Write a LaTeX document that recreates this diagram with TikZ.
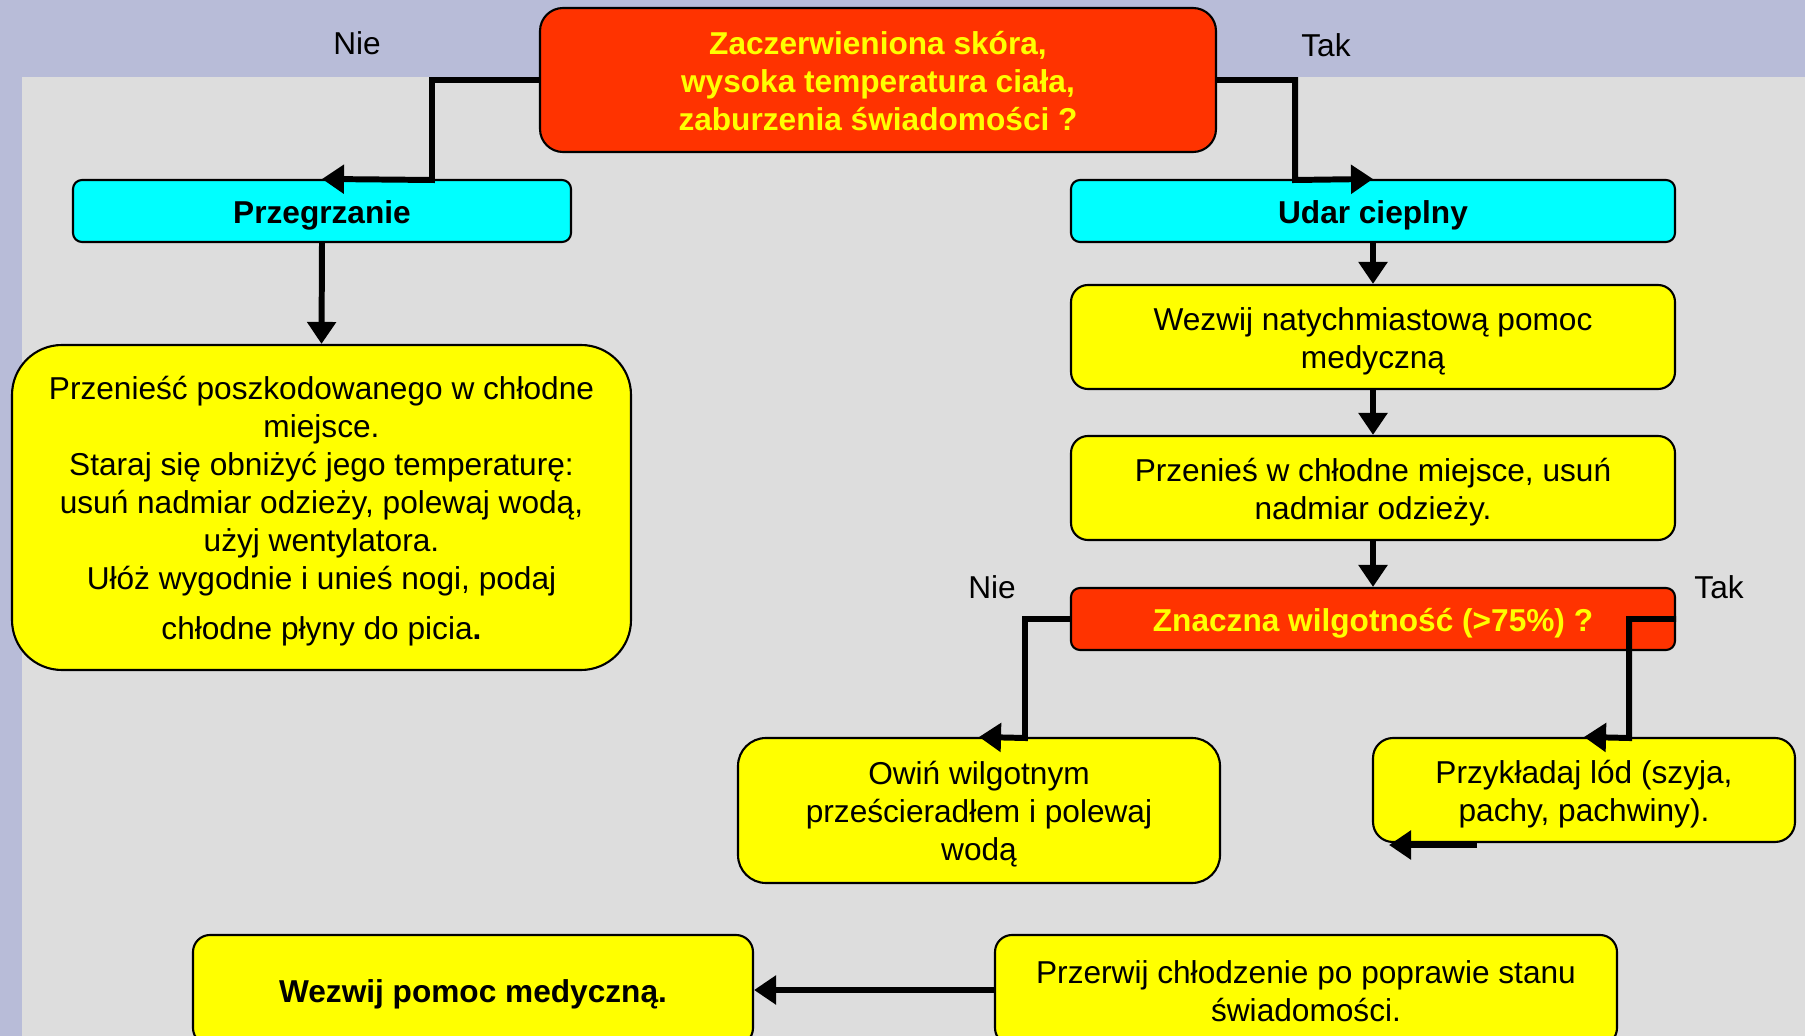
\documentclass[tikz,border=0pt]{standalone}
\usepackage{fontspec}
\setmainfont{Liberation Sans}
\usetikzlibrary{arrows.meta,positioning,calc}
\definecolor{tlo}{HTML}{B8BCD8}
\definecolor{szary}{HTML}{DDDDDD}
\definecolor{czerwony}{HTML}{FF3300}
\definecolor{zolty}{HTML}{FFFF00}
\definecolor{cyjan}{HTML}{00FFFF}
% wysokosc pierwszej i glebokosc ostatniej linii jak w Arialu
\newcommand{\gora}{\rule{0pt}{8.8pt}}
\newcommand{\dol}{\rule[-1.9pt]{0pt}{1.9pt}}

\begin{document}
\begin{tikzpicture}[x=0.1mm,y=-0.1mm,line width=1.7pt,
    box/.style={draw=black,line width=0.6pt,align=center,inner sep=0pt,
        font=\fontsize{9}{10.8}\selectfont},
    pytanie/.style={box,fill=czerwony,text=zolty,font=\fontsize{9}{10.8}\selectfont\bfseries},
    naglowek/.style={box,fill=cyjan,rounded corners=0.9mm,font=\fontsize{9}{10.8}\selectfont\bfseries},
    krok/.style={box,fill=zolty},
    etykieta/.style={font=\fontsize{9}{10.8}\selectfont},
    strzalka/.style={-{Triangle[length=2.2mm,width=2.8mm]}}]
    \useasboundingbox (0,0) rectangle (1805,1036);
    \clip (0,0) rectangle (1805,1036);
    \fill[tlo] (0,0) rectangle (1805,1036);
    \fill[szary] (22,77) rectangle (1805,1036);

    \node[pytanie,rounded corners=2.3mm,minimum width=67.6mm,minimum height=14.4mm] (q1) at (878,80)
        {\gora Zaczerwieniona skóra,\\wysoka temperatura ciała,\\zaburzenia świadomości ?\dol};
    \node[naglowek,minimum width=49.8mm,minimum height=6.2mm] (przeg) at (322,211) {\gora Przegrzanie\dol};
    \node[naglowek,minimum width=60.4mm,minimum height=6.2mm] (udar) at (1373,211) {\gora Udar cieplny\dol};
    \node[krok,rounded corners=5mm,minimum width=61.9mm,minimum height=32.5mm] (chlodz) at (321.5,507.5)
        {\gora Przenieść poszkodowanego w chłodne\\miejsce.\\Staraj się obniżyć jego temperaturę:\\usuń nadmiar odzieży, polewaj wodą,\\użyj wentylatora.\\Ułóż wygodnie i unieś nogi, podaj\\[3.5pt]chłodne płyny do picia\textbf{.}\dol};
    \node[krok,rounded corners=1.7mm,minimum width=60.4mm,minimum height=10.4mm] (pomoc) at (1373,337)
        {\gora Wezwij natychmiastową pomoc\\medyczną\dol};
    \node[krok,rounded corners=1.7mm,minimum width=60.4mm,minimum height=10.4mm] (przenies) at (1373,488)
        {\gora Przenieś w chłodne miejsce, usuń\\nadmiar odzieży.\dol};
    \node[pytanie,rounded corners=0.9mm,minimum width=60.4mm,minimum height=6.2mm] (q2) at (1373,619)
        {\gora Znaczna wilgotność (>75\%) ?\dol};
    \node[krok,rounded corners=2.8mm,minimum width=48.2mm,minimum height=14.5mm] (owin) at (979,810.5)
        {\gora Owiń wilgotnym\\prześcieradłem i polewaj\\wodą\dol};
    \node[krok,rounded corners=2mm,minimum width=42.2mm,minimum height=10.4mm] (lod) at (1584,790)
        {\gora Przykładaj lód (szyja,\\pachy, pachwiny).\dol};
    \node[krok,rounded corners=1.7mm,minimum width=56mm,minimum height=11mm,font=\fontsize{9}{10.8}\selectfont\bfseries] (wezwij) at (473,990)
        {\gora Wezwij pomoc medyczną.\dol};
    \node[krok,rounded corners=1.7mm,minimum width=62.2mm,minimum height=11mm] (przerwij) at (1306,990)
        {\gora Przerwij chłodzenie po poprawie stanu\\świadomości.\dol};

    \node[etykieta] (nie1) at (357,43) {Nie};
    \node[etykieta] (tak1) at (1326,45) {Tak};
    \node[etykieta] (nie2) at (992,587) {Nie};
    \node[etykieta] (tak2) at (1719,587) {Tak};

    \coordinate (nieA) at (432,180);
    \coordinate (takA) at (1295,180);
    \coordinate (nieB) at (1025,738);
    \coordinate (takB) at (1629,738);
    \coordinate (lodA) at (1477,845);
    \coordinate (lodB) at (1389,845);

    \draw[strzalka] (q1.west) -| (nieA) -- (przeg.north);
    \draw[strzalka] (q1.east) -| (takA) -- (udar.north);
    \draw[strzalka] (przeg.south) -- (chlodz.north);
    \draw[strzalka] (udar.south) -- (pomoc.north);
    \draw[strzalka] (pomoc.south) -- (przenies.north);
    \draw[strzalka] (przenies.south) -- (q2.north);
    \draw[strzalka] (q2.west) -| (nieB) -- (owin.north);
    \draw[strzalka] (q2.east) -| (takB) -- (lod.north);
    \draw[strzalka] (lodA) -- (lodB);
    \draw[strzalka] (przerwij.west) -- (wezwij.east);
\end{tikzpicture}
\end{document}
